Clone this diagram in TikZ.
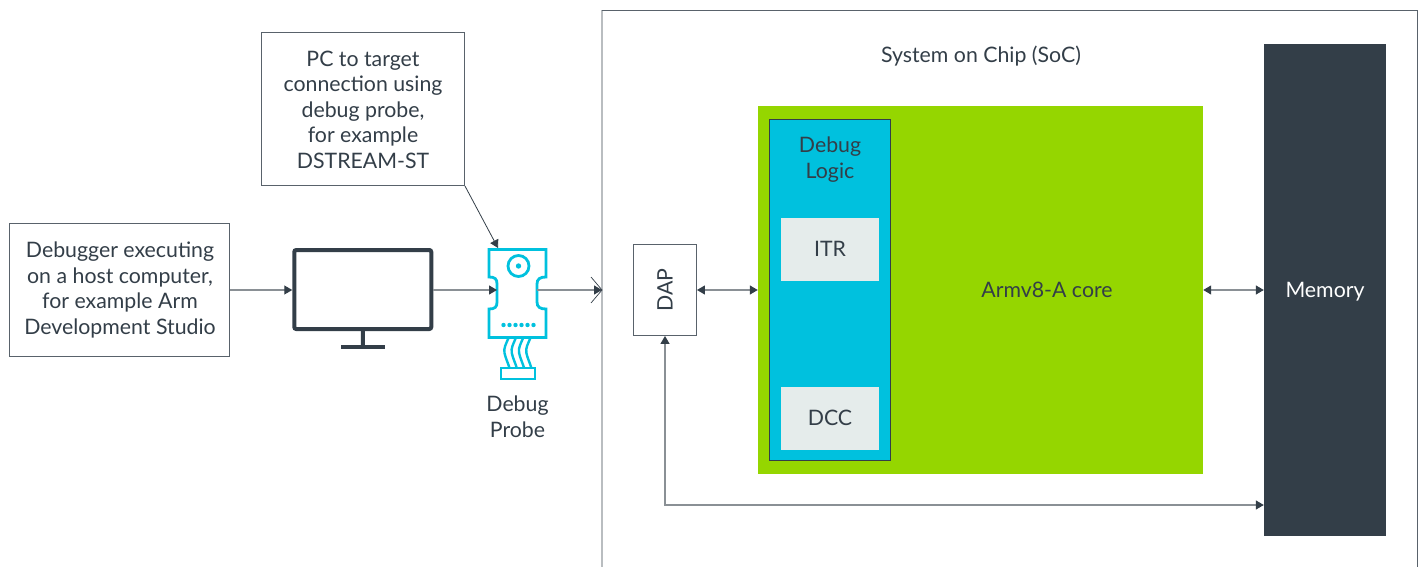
\documentclass[tikz,border=0pt]{standalone}
\usepackage{fontspec}
\setmainfont{Lato}
\usetikzlibrary{arrows.meta}
\definecolor{ink}{HTML}{333E48}
\definecolor{cyanb}{HTML}{00C1DE}
\definecolor{limeb}{HTML}{95D600}
\definecolor{paleb}{HTML}{E5ECEB}
\definecolor{lineg}{HTML}{8A9095}
\definecolor{socg}{HTML}{B9BDC0}
\definecolor{boxg}{HTML}{59626B}
\tikzset{
 x=1pt,y=-1pt,
 lbl/.style={text=ink,font=\fontsize{21.3}{25.5}\selectfont,align=center,inner sep=0pt},
 callout/.style={draw=boxg,line width=0.9pt,fill=white,lbl},
 conn/.style={draw=lineg,line width=1.2pt,-{Triangle[length=8pt,width=9pt,color=ink]}},
 conn2/.style={draw=lineg,line width=1.2pt,{Triangle[length=8pt,width=9pt,color=ink]}-{Triangle[length=8pt,width=9pt,color=ink]}},
 probe/.style={draw=cyanb,line width=2.8pt},
 graybox/.style={fill=paleb,lbl,minimum width=98pt,minimum height=63pt},
}
\begin{document}
\begin{tikzpicture}
\useasboundingbox (0,0) rectangle (1426,567);
% SoC
\draw[socg,line width=1.3pt] (602,567) -- (602,10.5);
\draw[boxg,line width=1pt] (601.5,10.5) -- (1417.5,10.5) -- (1417.5,567);
\node[lbl] at (981,56.5) {System on Chip (SoC)};
\node[fill=limeb,minimum width=445pt,minimum height=368pt,inner sep=0pt] (core) at (980.5,290) {};
\node[lbl] at (1047,289.5) {Armv8-A core};
\node[fill=cyanb,draw=ink,line width=1pt,minimum width=121pt,minimum height=340pt,inner sep=0pt] (dbg) at (830,290) {};
\node[lbl] at (830,159.5) {Debug\\Logic};
\node[graybox] (itr) at (830,249) {ITR};
\node[graybox] (dcc) at (830,418) {DCC};
\node[fill=ink,minimum width=122pt,minimum height=492pt,inner sep=0pt] (mem) at (1325,290) {};
\node[text=white,font=\fontsize{21.3}{25}\selectfont,inner sep=0pt] at (1325,292) {Memory};
\node[draw=boxg,line width=0.9pt,fill=white,minimum width=63pt,minimum height=91pt,inner sep=0pt] (dap) at (665,290) {};
\node[lbl,rotate=90] at (665,290) {DAP};
% callouts
\node[callout,minimum width=203.5pt,minimum height=153pt] (pc) at (362.75,109) {};
\node[lbl] at (363,109.5) {PC to target\\connection using\\debug probe,\\for example\\DSTREAM-ST};
\node[callout,minimum width=220pt,minimum height=133pt] (dbgr) at (119.5,290) {};
\node[lbl] at (120,290) {Debugger executing\\on a host computer,\\for example Arm\\Development Studio};
% monitor
\node[draw=ink,line width=4pt,rounded corners=2pt,minimum width=137pt,minimum height=79pt,inner sep=0pt] (mon) at (362.75,289.5) {};
\draw[ink,line width=4pt] (mon.south) -- (363,347);
\draw[ink,line width=4pt] (341,347) -- (385,347);
% probe
\coordinate (pbl) at (497,290);
\coordinate (pbr) at (537,290);
\coordinate (ptop) at (498,248);
\draw[probe,fill=white,line join=miter] (489,249.5) -- (546,249.5) -- (546,277)
  .. controls (540,277) and (537,279) .. (537,284) -- (537,302)
  .. controls (537,307) and (540,309) .. (546,309) -- (546,337.5) -- (489,337.5) -- (489,309)
  .. controls (495,309) and (497,307) .. (497,302) -- (497,284)
  .. controls (497,279) and (495,277) .. (489,277) -- cycle;
\draw[probe] (518.5,266) circle (10.5);
\fill[cyanb] (518.5,266) circle (2.7);
\foreach \i in {0,...,5} \fill[cyanb] (503.5+6*\i,325) circle (2.2);
\foreach \i in {0,...,3}
  \draw[probe,line width=2.4pt] (508.5+7.3*\i,338) .. controls (506+7.3*\i,344) and (503.5+7.3*\i,348) .. (504.5+7.3*\i,353) .. controls (505.5+7.3*\i,358) and (508+7.3*\i,363) .. (509.5+7.3*\i,368);
\draw[probe,fill=white] (501,368) rectangle (535,379);
\node[lbl] at (517.5,416.5) {Debug\\Probe};
% connectors
\draw[conn] (dbgr.east) -- (dbgr.east -| mon.west);
\draw[conn] (mon.east |- pbl) -- (pbl);
\draw[draw=ink,line width=0.8pt,-{Triangle[length=8pt,width=9pt,color=ink]}] (pc.south east) -- (ptop);
\draw[conn] (pbr) -- (602,290);
\draw[ink,line width=0.7pt] (591,277) -- (602,290) -- (591,303);
\draw[conn2] (dap.east) -- (core.west);
\draw[conn2] (core.east) -- (mem.west);
\draw[conn2] (dap.south) -- (665,505) -- (mem.west |- 0,505);
\end{tikzpicture}
\end{document}
